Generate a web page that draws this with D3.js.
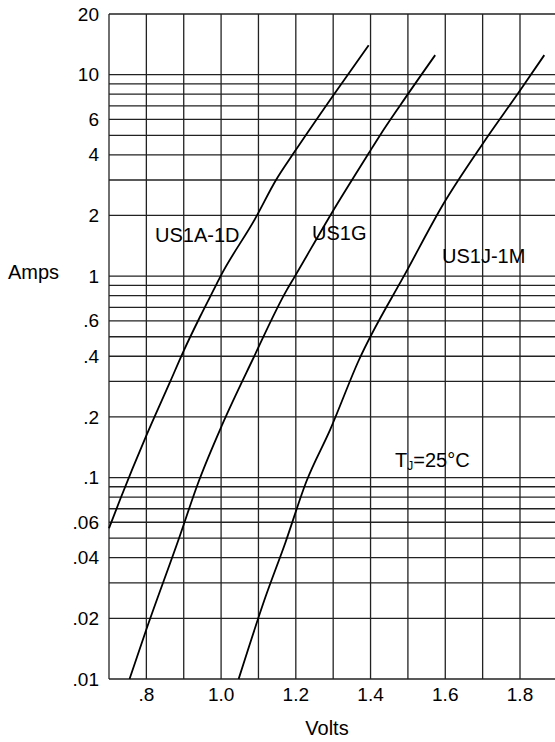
<!DOCTYPE html>
<html>
<head>
<meta charset="utf-8">
<script src="https://cdn.jsdelivr.net/npm/d3@7"></script>
<style>
    body { margin: 0; background: #fff; }
    text { font-family: "Liberation Sans", Arial, sans-serif; fill: #000; }
    .grid line { stroke: #222; stroke-width: 1.3; }
    .curve { fill: none; stroke: #000; stroke-width: 1.8; }
</style>
</head>
<body>
<svg id="chart"></svg>
<script>
var width = 555;
var height = 742;

var margin = {
    top: 14,
    right: 0,
    bottom: 63,
    left: 109
};

var chartBottom = height - margin.bottom;

// forward voltage (V) vs forward current (A)
var us1aVolts = [0.700, 0.730, 0.799, 0.864, 0.899, 0.944, 0.980, 0.998, 1.092, 1.147, 1.197, 1.301, 1.395];
var us1aAmps  = [0.056, 0.078, 0.160, 0.300, 0.422, 0.630, 0.854, 0.994, 1.94, 3.00, 4.15, 7.93, 14.0];

var us1gVolts = [0.755, 0.799, 0.886, 0.940, 1.003, 1.083, 1.176, 1.197, 1.301, 1.395, 1.426, 1.480, 1.573];
var us1gAmps  = [0.010, 0.0174, 0.0491, 0.0956, 0.183, 0.380, 0.854, 0.994, 2.13, 4.07, 5.02, 7.07, 12.5];

var us1jVolts = [1.047, 1.118, 1.172, 1.228, 1.292, 1.368, 1.498, 1.596, 1.698, 1.801, 1.865];
var us1jAmps  = [0.010, 0.0253, 0.0475, 0.0953, 0.173, 0.380, 1.07, 2.30, 4.48, 8.39, 12.5];

var yLabels = [20, 10, 6, 4, 2, 1, 0.6, 0.4, 0.2, 0.1, 0.06, 0.04, 0.02, 0.01];
var xLabels = [0.8, 1.0, 1.2, 1.4, 1.6, 1.8];

var series = [
    { name: "US1A-1D", volts: us1aVolts, amps: us1aAmps },
    { name: "US1G", volts: us1gVolts, amps: us1gAmps },
    { name: "US1J-1M", volts: us1jVolts, amps: us1jAmps }
];

var svg = d3.select("#chart")
    .attr("width", width)
    .attr("height", height);

var xScale = d3.scaleLinear()
    .domain([0.7, 1.8])
    .range([margin.left, 520]);
xScale.domain([0.7, xScale.invert(width)]).range([margin.left, width]);

var yScale = d3.scaleLog()
    .domain([0.01, 20])
    .range([chartBottom, margin.top]);

// horizontal grid, one line per 1..9 step of each decade
svg.append("g")
    .attr("class", "grid")
    .selectAll("line")
    .data(yScale.ticks())
    .enter().append("line")
        .attr("x1", margin.left)
        .attr("x2", width)
        .attr("y1", function(d) { return yScale(d); })
        .attr("y2", function(d) { return yScale(d); });

// vertical grid every 0.1 V
svg.append("g")
    .attr("class", "grid")
    .selectAll("line")
    .data(d3.range(7, 19).map(function(d) { return d / 10; }))
    .enter().append("line")
        .attr("x1", function(d) { return xScale(d); })
        .attr("x2", function(d) { return xScale(d); })
        .attr("y1", margin.top)
        .attr("y2", chartBottom);

// curves
var line = d3.line()
    .x(function(d) { return xScale(d[0]); })
    .y(function(d) { return yScale(d[1]); })
    .curve(d3.curveMonotoneX);

svg.append("g")
    .selectAll("path")
    .data(series)
    .enter().append("path")
        .attr("class", "curve")
        .attr("d", function(s) {
            return line(d3.zip(s.volts, s.amps));
        });

// tick labels
var fmt = function(d) {
    return d < 1 ? String(d).replace(/^0/, "") : String(d);
};

svg.append("g")
    .selectAll("text")
    .data(yLabels)
    .enter().append("text")
        .attr("x", 99)
        .attr("y", function(d) { return yScale(d); })
        .attr("dy", ".35em")
        .style("text-anchor", "end")
        .style("font-size", "19px")
        .text(fmt);

svg.append("g")
    .selectAll("text")
    .data(xLabels)
    .enter().append("text")
        .attr("x", function(d) { return xScale(d); })
        .attr("y", 701)
        .style("text-anchor", "middle")
        .style("font-size", "19px")
        .text(function(d) { return d < 1 ? fmt(d) : d.toFixed(1); });

// axis titles + series labels
svg.append("text")
    .attr("x", 8)
    .attr("y", 279)
    .style("font-size", "20px")
    .text("Amps");

svg.append("text")
    .attr("x", 327)
    .attr("y", 735)
    .style("text-anchor", "middle")
    .style("font-size", "20px")
    .text("Volts");

var seriesLabels = [
    { text: "US1A-1D", x: 155, y: 242 },
    { text: "US1G", x: 312, y: 240 },
    { text: "US1J-1M", x: 442, y: 263 }
];

svg.append("g")
    .selectAll("text")
    .data(seriesLabels)
    .enter().append("text")
        .attr("x", function(d) { return d.x; })
        .attr("y", function(d) { return d.y; })
        .style("font-size", "20px")
        .text(function(d) { return d.text; });

var tj = svg.append("text")
    .attr("x", 395)
    .attr("y", 467)
    .style("font-size", "20px");
tj.append("tspan").text("T");
tj.append("tspan")
    .attr("dy", 3)
    .style("font-size", "12px")
    .text("J");
tj.append("tspan")
    .attr("dy", -3)
    .text("=25\u00B0C");
</script>
</body>
</html>
